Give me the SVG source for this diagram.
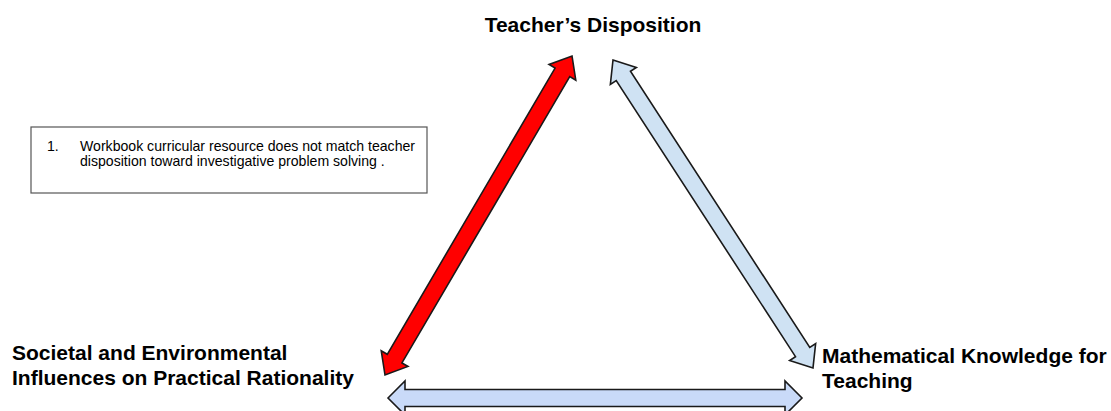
<svg xmlns="http://www.w3.org/2000/svg" width="1111" height="411" viewBox="0 0 1111 411">
<style>
.lbl{font-family:"Liberation Sans",Arial,sans-serif;font-weight:bold;font-size:21px;fill:#000}
.note{font-family:"Liberation Sans",Arial,sans-serif;font-size:14.1px;fill:#000}
.arr{stroke:#1a1a1a;stroke-width:1.6;stroke-linejoin:miter}
</style>
<rect width="1111" height="411" fill="#fff"/>
<g id="connectors">
<polygon class="arr" fill="#ff0000" transform="translate(385,375) rotate(-59.62)" points="0,0 19,-15.5 19,-8.5 350.8,-8.5 350.8,-15.5 369.8,0 350.8,15.5 350.8,8.5 19,8.5 19,15.5"/>
<polygon class="arr" fill="#cfe2f3" transform="translate(613,60) rotate(57.0)" points="0,0 19,-15.5 19,-8.5 348.2,-8.5 348.2,-15.5 367.2,0 348.2,15.5 348.2,8.5 19,8.5 19,15.5"/>
<polygon class="arr" fill="#c9daf8" transform="translate(388,398)" points="0,0 17,-17 17,-8.5 397,-8.5 397,-17 414,0 397,17 397,8.5 17,8.5 17,17"/>
</g>
<g id="teacher">
<text class="lbl" x="593" y="32" text-anchor="middle">Teacher’s Disposition</text>
</g>
<g id="societal">
<text class="lbl" x="12" y="360">Societal and Environmental</text>
<text class="lbl" x="12" y="385">Influences on Practical Rationality</text>
</g>
<g id="mkt">
<text class="lbl" x="822" y="363">Mathematical Knowledge for</text>
<text class="lbl" x="822" y="388">Teaching</text>
</g>
<g id="note">
<rect x="31" y="127" width="396" height="66" fill="#fff" stroke="#555" stroke-width="1.2"/>
<text class="note" x="47" y="151">1.</text>
<text class="note" x="80" y="151">Workbook curricular resource does not match teacher</text>
<text class="note" x="80" y="166">disposition toward investigative problem solving .</text>
</g>
</svg>
